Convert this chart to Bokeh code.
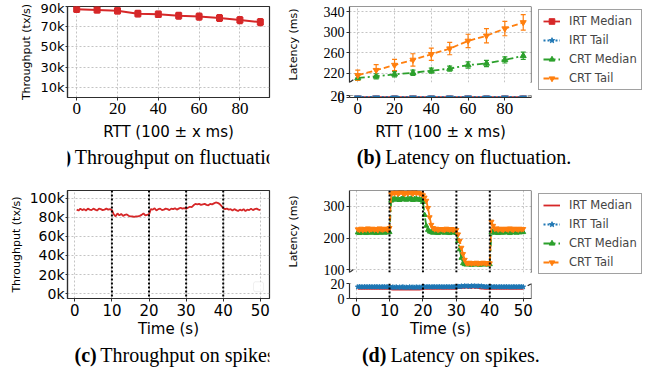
from bokeh.plotting import figure
from bokeh.models import (ColumnDataSource, FixedTicker, Range1d, Span, Label, Legend,
                          LegendItem, Whisker, TeeHead, Arrow, BoxAnnotation,
                          CustomJSTickFormatter, GridBox)
from bokeh.embed import file_html
from bokeh.resources import INLINE

# ---------------- data ----------------
rtt = [0, 10, 20, 30, 40, 50, 60, 70, 80, 90]
tput_fluct_k = [87.4, 86.6, 85.7, 82.9, 82.3, 80.9, 80.0, 78.6, 76.6, 74.6]
tput_fluct_err_k = [3.2, 3.0, 3.0, 3.3, 3.2, 3.3, 3.4, 3.3, 3.5, 3.5]
irt_median_fluct = [2.8, 2.8, 2.9, 2.8, 2.9, 2.9, 2.8, 2.8, 2.9, 2.8]
irt_tail_fluct = [5.0, 5.0, 5.1, 5.0, 5.1, 5.0, 4.9, 4.8, 4.8, 4.7]
crt_median_fluct = [211, 214, 218, 221, 225, 229, 236, 239, 246, 254]
crt_median_fluct_err = [5, 5, 5, 5, 5, 5, 6, 6, 6, 7]
crt_tail_fluct = [216, 226, 236, 246, 257, 268, 283, 293, 307, 319]
crt_tail_fluct_err = [10, 11, 11, 12, 12, 12, 13, 14, 14, 15]

time_s = [0.5, 1.0, 1.5, 2.0, 2.5, 3.0, 3.5, 4.0, 4.5, 5.0, 5.5, 6.0, 6.5, 7.0, 7.5, 8.0, 8.5, 9.0, 9.5, 10.0,
          10.5, 11.0, 11.5, 12.0, 12.5, 13.0, 13.5, 14.0, 14.5, 15.0, 15.5, 16.0, 16.5, 17.0, 17.5, 18.0, 18.5, 19.0, 19.5, 20.0,
          20.5, 21.0, 21.5, 22.0, 22.5, 23.0, 23.5, 24.0, 24.5, 25.0, 25.5, 26.0, 26.5, 27.0, 27.5, 28.0, 28.5, 29.0, 29.5, 30.0,
          30.5, 31.0, 31.5, 32.0, 32.5, 33.0, 33.5, 34.0, 34.5, 35.0, 35.5, 36.0, 36.5, 37.0, 37.5, 38.0, 38.5, 39.0, 39.5, 40.0,
          40.5, 41.0, 41.5, 42.0, 42.5, 43.0, 43.5, 44.0, 44.5, 45.0, 45.5, 46.0, 46.5, 47.0, 47.5, 48.0, 48.5, 49.0, 49.5, 50.0]
spike_times = [10, 20, 30, 40]

tput_spike_k = [88, 87, 89, 87.5, 88.5, 87, 89, 88, 87.5, 89, 88, 87, 89, 88.5, 87.5, 88, 89, 88, 88.5, 87.5,
                83, 81, 84, 82, 83.5, 81.5, 82.5, 83, 81.5, 81, 81, 80.5, 81, 81, 81.5, 82.5, 84, 82, 82.5, 83,
                88.5, 88, 89.5, 87, 88.5, 89, 87.5, 88, 89, 88.5, 87.5, 89, 88.5, 89.5, 88, 89, 90, 89, 89.5, 89,
                90, 91, 90.5, 92.5, 94, 93.5, 94, 93, 93.5, 94, 93, 92.5, 94, 93.5, 94.5, 95.5, 95, 94, 92, 89.5,
                88.5, 89, 88, 88.5, 87, 88.5, 87.5, 86.5, 88, 87, 88.5, 86.5, 88, 87.5, 89, 87.5, 88.5, 89, 88, 87.5]

crt_median_spike = [218, 216, 219, 217, 220, 216, 218, 219, 217, 218, 220, 216, 219, 217, 218, 220, 217, 219, 218, 219,
                    318, 322, 325, 321, 324, 320, 323, 326, 322, 321, 324, 322, 325, 320, 323, 324, 321, 322, 320, 314,
                    273, 239, 226, 221, 219, 217, 220, 218, 216, 219, 218, 220, 217, 219, 218, 216, 219, 220, 218, 216,
                    191, 165, 138, 121, 118, 117, 119, 118, 116, 118, 119, 117, 118, 116, 118, 119, 117, 118, 117, 118,
                    218, 221, 217, 219, 216, 220, 218, 217, 219, 221, 218, 216, 219, 218, 220, 217, 219, 218, 220, 219]

crt_tail_spike = [228, 226, 230, 225, 229, 227, 231, 226, 228, 230, 227, 229, 225, 231, 228, 227, 230, 229, 226, 232,
                  338, 344, 341, 345, 340, 343, 346, 342, 339, 344, 341, 345, 343, 340, 346, 342, 344, 341, 339, 335,
                  328, 318, 295, 266, 242, 232, 228, 230, 226, 228, 229, 227, 226, 230, 228, 227, 229, 226, 228, 226,
                  212, 192, 170, 150, 132, 122, 121, 123, 120, 122, 121, 123, 120, 122, 121, 123, 122, 120, 122, 121,
                  252, 239, 229, 231, 227, 230, 228, 226, 230, 229, 227, 231, 228, 226, 230, 229, 227, 230, 228, 229]

irt_median_spike = [13.0, 13.1, 12.9, 13.0, 13.2, 12.9, 13.0, 13.1, 12.9, 13.0, 13.1, 13.0, 12.9, 13.1, 13.0, 13.0, 12.9, 13.1, 13.0, 13.0,
                    12.1, 12.0, 11.9, 12.1, 12.0, 11.9, 12.0, 12.1, 12.0, 11.9, 12.0, 12.1, 11.9, 12.0, 12.0, 12.1, 11.9, 12.0, 12.1, 12.4,
                    13.0, 13.1, 12.9, 13.0, 13.1, 13.0, 12.9, 13.0, 13.1, 13.0, 12.9, 13.0, 13.1, 13.0, 13.0, 12.9, 13.1, 13.0, 13.0, 13.2,
                    13.8, 14.3, 13.9, 14.6, 14.1, 14.8, 14.2, 14.5, 13.9, 14.7, 14.0, 14.4, 14.1, 13.6, 13.3, 13.2, 13.0, 13.1, 13.0, 13.0,
                    13.0, 13.1, 12.9, 13.0, 13.1, 13.0, 12.9, 13.0, 13.1, 13.0, 12.9, 13.0, 13.1, 13.0, 13.0, 12.9, 13.1, 13.0, 13.0, 13.0]

irt_tail_spike = [15.4, 15.6, 15.5, 15.3, 15.6, 15.5, 15.4, 15.6, 15.5, 15.4, 15.5, 15.6, 15.4, 15.5, 15.3, 15.6, 15.5, 15.4, 15.5, 15.5,
                  14.6, 15.2, 14.8, 15.3, 14.7, 15.1, 14.9, 15.4, 14.8, 15.0, 14.7, 15.3, 14.9, 15.1, 14.8, 15.2, 14.9, 15.0, 15.1, 15.3,
                  15.5, 15.4, 15.6, 15.5, 15.3, 15.6, 15.5, 15.4, 15.5, 15.6, 15.4, 15.5, 15.3, 15.6, 15.5, 15.4, 15.5, 15.6, 15.5, 15.6,
                  16.2, 15.8, 16.9, 16.1, 17.3, 16.4, 17.1, 16.0, 17.4, 16.5, 17.2, 16.3, 17.0, 16.2, 16.8, 15.9, 15.7, 15.5, 15.6, 15.5,
                  15.5, 15.4, 15.6, 15.5, 15.3, 15.6, 15.5, 15.4, 15.5, 15.6, 15.4, 15.5, 15.3, 15.6, 15.5, 15.4, 15.5, 15.6, 15.5, 15.5]

rtt_ticks = [0, 20, 40, 60, 80]
time_ticks = [0, 10, 20, 30, 40, 50]
tput_fluct_ticks = [10, 30, 50, 70, 90]
tput_spike_ticks = [0, 20, 40, 60, 80, 100]
lat_fluct_ticks = [220, 260, 300, 340]
lat_spike_ticks = [100, 200, 300]
lat_low_ticks = [0, 20]

series_names = ["IRT Median", "IRT Tail", "CRT Median", "CRT Tail"]

# ---------------- style ----------------
FRAME = "#2e2e2e"
GRID = "#b5b5b5"
RED, BLUE, GREEN, ORANGE = "#d62728", "#1f77b4", "#2ca02c", "#ff7f0e"
SANS = "DejaVu Sans"
SERIF = "Liberation Serif"

# page-pixel geometry of every panel (canvas origin, size, frame edges)
GA = dict(x0=0, y0=0, W=283, H=143, fl=57, fr=269, ft=6, fb=111, xr=(-4.5, 94.5), yr=(0, 90))
GBU = dict(x0=283, y0=0, W=252, H=88, fl=340, fr=531, ft=2, fb=82, xr=(-4.5, 94.5), yr=(202, 350))
GBL = dict(x0=283, y0=88, W=252, H=55, fl=340, fr=531, ft=95, fb=115, xr=(-4.5, 94.5), yr=(0, 20))
GC = dict(x0=0, y0=170, W=283, H=170, fl=67, fr=269, ft=190, fb=300, xr=(-1.975, 52.475), yr=(-5, 108))
GDU = dict(x0=283, y0=170, W=252, H=107, fl=340, fr=531, ft=190, fb=272, xr=(-1.975, 52.475), yr=(92, 350))
GDL = dict(x0=283, y0=277, W=252, H=63, fl=340, fr=531, ft=283, fb=303, xr=(-1.975, 52.475), yr=(0, 20))
LEG_W = 112
CAP1_H = 27
CAP2_H = 29


def to_data(g, px, py):
    x = g["xr"][0] + (px - g["fl"]) / (g["fr"] - g["fl"]) * (g["xr"][1] - g["xr"][0])
    y = g["yr"][0] + (g["fb"] - py) / (g["fb"] - g["ft"]) * (g["yr"][1] - g["yr"][0])
    return x, y


def make(g):
    p = figure(width=g["W"], height=g["H"],
               x_range=Range1d(*g["xr"]), y_range=Range1d(*g["yr"]),
               min_border_left=g["fl"] - g["x0"], min_border_right=g["x0"] + g["W"] - g["fr"],
               min_border_top=g["ft"] - g["y0"], min_border_bottom=g["y0"] + g["H"] - g["fb"],
               toolbar_location=None, tools="", output_backend="svg",
               background_fill_color="white", border_fill_color="white")
    p.outline_line_color = FRAME
    p.outline_line_width = 1.2
    p.grid.grid_line_color = GRID
    p.grid.grid_line_dash = "2 2"
    p.grid.grid_line_width = 0.8
    return p


def blank(W, H, top=0):
    p = figure(width=W, height=H, x_range=Range1d(0, W), y_range=Range1d(0, H - top),
               min_border_left=0, min_border_right=0, min_border_top=top, min_border_bottom=0,
               toolbar_location=None, tools="", output_backend="svg",
               x_axis_type=None, y_axis_type=None,
               background_fill_color="white", border_fill_color="white")
    p.outline_line_color = None
    p.grid.visible = False
    return p


def style_axis(ax, font, size, standoff=2, tick_out=3):
    ax.major_label_text_font = font
    ax.major_label_text_font_size = f"{size}px"
    ax.major_label_text_color = "black"
    ax.axis_line_color = FRAME
    ax.axis_line_width = 1.2
    ax.major_tick_line_color = FRAME
    ax.major_tick_out = tick_out
    ax.major_tick_in = 0
    ax.minor_tick_line_color = None
    ax.major_label_standoff = standoff
    ax.axis_label_text_font = SANS
    ax.axis_label_text_font_style = "normal"
    ax.axis_label_text_color = "black"


def set_ticks(p, xticks, yticks):
    p.xaxis.ticker = FixedTicker(ticks=xticks)
    p.xgrid.ticker = FixedTicker(ticks=xticks)
    p.yaxis.ticker = FixedTicker(ticks=yticks)
    p.ygrid.ticker = FixedTicker(ticks=yticks)


def broken_edges(p, g, upper):
    p.outline_line_color = None
    p.add_layout(Span(location=g["xr"][1], dimension="height", line_color=FRAME, line_width=1.2))
    if upper:
        p.add_layout(Span(location=g["yr"][1], dimension="width", line_color=FRAME, line_width=1.2))
        cy = g["fb"]
    else:
        cy = g["ft"]
    for cx in (g["fl"], g["fr"]):
        xs, ys = to_data(g, cx - 4, cy + 3)
        xe, ye = to_data(g, cx + 4, cy - 3)
        p.add_layout(Arrow(end=None, x_start=xs, y_start=ys, x_end=xe, y_end=ye,
                           line_color=FRAME, line_width=1.2))


def caption_fig(W, H, tag, text, cx, cy_from_top, tag_em, text_em, size=20):
    p = blank(W, H)
    total = (tag_em + 0.25 + text_em) * size
    xs = cx - total / 2 + tag_em * size
    y = H - cy_from_top
    p.add_layout(Label(x=xs, y=y, text=tag, text_align="right", text_baseline="middle",
                       text_font=SERIF, text_font_size=f"{size}px", text_font_style="bold",
                       text_color="black"))
    p.add_layout(Label(x=xs + 0.25 * size, y=y, text=text, text_align="left", text_baseline="middle",
                       text_font=SERIF, text_font_size=f"{size}px", text_color="black"))
    return p


def add_whisker(p, xs, vals, errs, color):
    src = ColumnDataSource(dict(x=xs, lo=[v - e for v, e in zip(vals, errs)],
                                hi=[v + e for v, e in zip(vals, errs)]))
    p.add_layout(Whisker(source=src, base="x", lower="lo", upper="hi", line_color=color,
                         line_width=1.2,
                         lower_head=TeeHead(size=5, line_color=color, line_width=1.2),
                         upper_head=TeeHead(size=5, line_color=color, line_width=1.2)))


def legend_fig(H, top, xs, series, dashes_, markers_, sizes_):
    # separate figure that only carries the legend (its ranges hold none of the data)
    p = blank(LEG_W, H, top)
    p.x_range = Range1d(-2, -1)
    p.y_range = Range1d(-2, -1)
    items = []
    for name, ys, c, dsh, mk, ms in zip(series_names, series, colors, dashes_, markers_, sizes_):
        rs = [p.line(xs, ys, line_color=c, line_width=1.8, line_dash=dsh)]
        if mk is not None:
            rs.append(p.scatter(xs, ys, marker=mk, size=ms, color=c))
        items.append(LegendItem(label=name, renderers=rs))
    p.add_layout(Legend(items=items, location="top_left", margin=3, padding=4, spacing=5,
                        glyph_width=17, glyph_height=14, label_height=14, label_standoff=9,
                        label_text_font=SANS, label_text_font_size="11.5px",
                        border_line_color="#444444", border_line_width=1,
                        background_fill_color="white", background_fill_alpha=1))
    return p


colors = [RED, BLUE, GREEN, ORANGE]
dashes = ["solid", "2 2", "7 3 2 3", "6 3"]

# ---------------- (a) throughput on fluctuation ----------------
pa = make(GA)
set_ticks(pa, rtt_ticks, tput_fluct_ticks)
style_axis(pa.xaxis, SERIF, 17, standoff=2)
style_axis(pa.yaxis, SANS, 13, standoff=1, tick_out=2)
pa.yaxis.formatter = CustomJSTickFormatter(code="return tick + 'k';")
pa.xaxis.axis_label = "RTT (100 ± x ms)"
pa.xaxis.axis_label_text_font_size = "15px"
pa.xaxis.axis_label_standoff = 6
pa.yaxis.axis_label = "Throughput (tx/s)"
pa.yaxis.axis_label_text_font_size = "11px"
pa.yaxis.axis_label_standoff = 4
add_whisker(pa, rtt, tput_fluct_k, tput_fluct_err_k, RED)
pa.line(rtt, tput_fluct_k, line_color=RED, line_width=2)
pa.scatter(rtt, tput_fluct_k, marker="square", size=6, color=RED)
cap_a = caption_fig(GA["W"], CAP1_H, "(a)", "Throughput on fluctuation.", 104, 13, 1.166, 10.8)

# ---------------- (b) latency on fluctuation ----------------
fluct_series = [irt_median_fluct, irt_tail_fluct, crt_median_fluct, crt_tail_fluct]
markers = ["square", "star", "triangle", "inverted_triangle"]
msizes = [5, 8, 6, 6]

pbu = make(GBU)
pbl = make(GBL)
for p in (pbu, pbl):
    set_ticks(p, rtt_ticks, lat_fluct_ticks if p is pbu else lat_low_ticks)
    style_axis(p.xaxis, SERIF, 17, standoff=2)
    style_axis(p.yaxis, SERIF, 14, standoff=2)
    for name, ys, c, dsh, mk, ms in zip(series_names, fluct_series, colors, dashes, markers, msizes):
        p.line(rtt, ys, line_color=c, line_width=1.8, line_dash=dsh)
        p.scatter(rtt, ys, marker=mk, size=ms, color=c)
add_whisker(pbu, rtt, crt_median_fluct, crt_median_fluct_err, GREEN)
add_whisker(pbu, rtt, crt_tail_fluct, crt_tail_fluct_err, ORANGE)
pbu.xaxis.visible = False
pbu.yaxis.axis_label = "Latency (ms)"
pbu.yaxis.axis_label_text_font_size = "11px"
pbu.yaxis.axis_label_standoff = 21
pbl.xaxis.axis_label = "RTT (100 ± x ms)"
pbl.xaxis.axis_label_text_font_size = "15px"
pbl.xaxis.axis_label_standoff = 6
broken_edges(pbu, GBU, True)
broken_edges(pbl, GBL, False)
leg_b = legend_fig(GBU["H"] + GBL["H"], 1, rtt, fluct_series, dashes, markers, msizes)
cap_b = caption_fig(GBU["W"] + LEG_W, CAP1_H, "(b)", "Latency on fluctuation.", 122, 13, 1.222, 9.3)

# ---------------- (c) throughput on spikes ----------------
pc = make(GC)
set_ticks(pc, time_ticks, tput_spike_ticks)
style_axis(pc.xaxis, SANS, 15, standoff=2)
style_axis(pc.yaxis, SANS, 14, standoff=1, tick_out=2)
pc.yaxis.formatter = CustomJSTickFormatter(code="return tick + 'k';")
pc.xaxis.axis_label = "Time (s)"
pc.xaxis.axis_label_text_font_size = "15px"
pc.xaxis.axis_label_standoff = 1
pc.yaxis.axis_label = "Throughput (tx/s)"
pc.yaxis.axis_label_text_font_size = "11px"
pc.yaxis.axis_label_standoff = 4
for t in spike_times:
    pc.add_layout(Span(location=t, dimension="height", line_color="black", line_width=2, line_dash="2 2"))
pc.line(time_s, tput_spike_k, line_color=RED, line_width=1.8)
bl, bb = to_data(GC, 253, 293)
br, bt = to_data(GC, 263, 283)
pc.add_layout(BoxAnnotation(left=bl, right=br, bottom=bb, top=bt, fill_color="white",
                            fill_alpha=0.8, line_color="#cccccc", line_width=1, border_radius=2))
cap_c = caption_fig(GC["W"], CAP2_H, "(c)", "Throughput on spikes.", 122, 14, 1.11, 8.97)

# ---------------- (d) latency on spikes ----------------
spike_series = [irt_median_spike, irt_tail_spike, crt_median_spike, crt_tail_spike]
dmarkers = [None, "star", "triangle", "inverted_triangle"]
dmsizes = [0, 5, 5, 5]
pdu = make(GDU)
pdl = make(GDL)
for p in (pdu, pdl):
    set_ticks(p, time_ticks, lat_spike_ticks if p is pdu else lat_low_ticks)
    style_axis(p.xaxis, SANS, 15, standoff=2)
    style_axis(p.yaxis, SERIF, 14, standoff=2)
    for t in spike_times:
        p.add_layout(Span(location=t, dimension="height", line_color="black", line_width=2, line_dash="2 2"))
    for name, ys, c, dsh, mk, ms in zip(series_names, spike_series, colors, dashes, dmarkers, dmsizes):
        p.line(time_s, ys, line_color=c, line_width=1.8, line_dash=dsh)
        if mk is not None:
            p.scatter(time_s, ys, marker=mk, size=ms, color=c)
pdu.xaxis.visible = False
pdu.yaxis.axis_label = "Latency (ms)"
pdu.yaxis.axis_label_text_font_size = "11px"
pdu.yaxis.axis_label_standoff = 21
pdl.xaxis.axis_label = "Time (s)"
pdl.xaxis.axis_label_text_font_size = "15px"
pdl.xaxis.axis_label_standoff = 1
broken_edges(pdu, GDU, True)
broken_edges(pdl, GDL, False)
leg_d = legend_fig(GDU["H"] + GDL["H"], 19, time_s, spike_series, dashes, dmarkers, dmsizes)
cap_d = caption_fig(GDU["W"] + LEG_W, CAP2_H, "(d)", "Latency on spikes.", 110, 14, 1.222, 7.47)

layout = GridBox(children=[
    (pa, 0, 0, 2, 1), (pbu, 0, 1), (pbl, 1, 1), (leg_b, 0, 2, 2, 1),
    (cap_a, 2, 0), (cap_b, 2, 1, 1, 2),
    (pc, 3, 0, 2, 1), (pdu, 3, 1), (pdl, 4, 1), (leg_d, 3, 2, 2, 1),
    (cap_c, 5, 0), (cap_d, 5, 1, 1, 2),
], spacing=0, cols=["283px", "252px", "112px"],
    rows=["88px", "55px", "27px", "107px", "63px", "29px"])
open("out.html", "w").write(file_html(layout, INLINE))
